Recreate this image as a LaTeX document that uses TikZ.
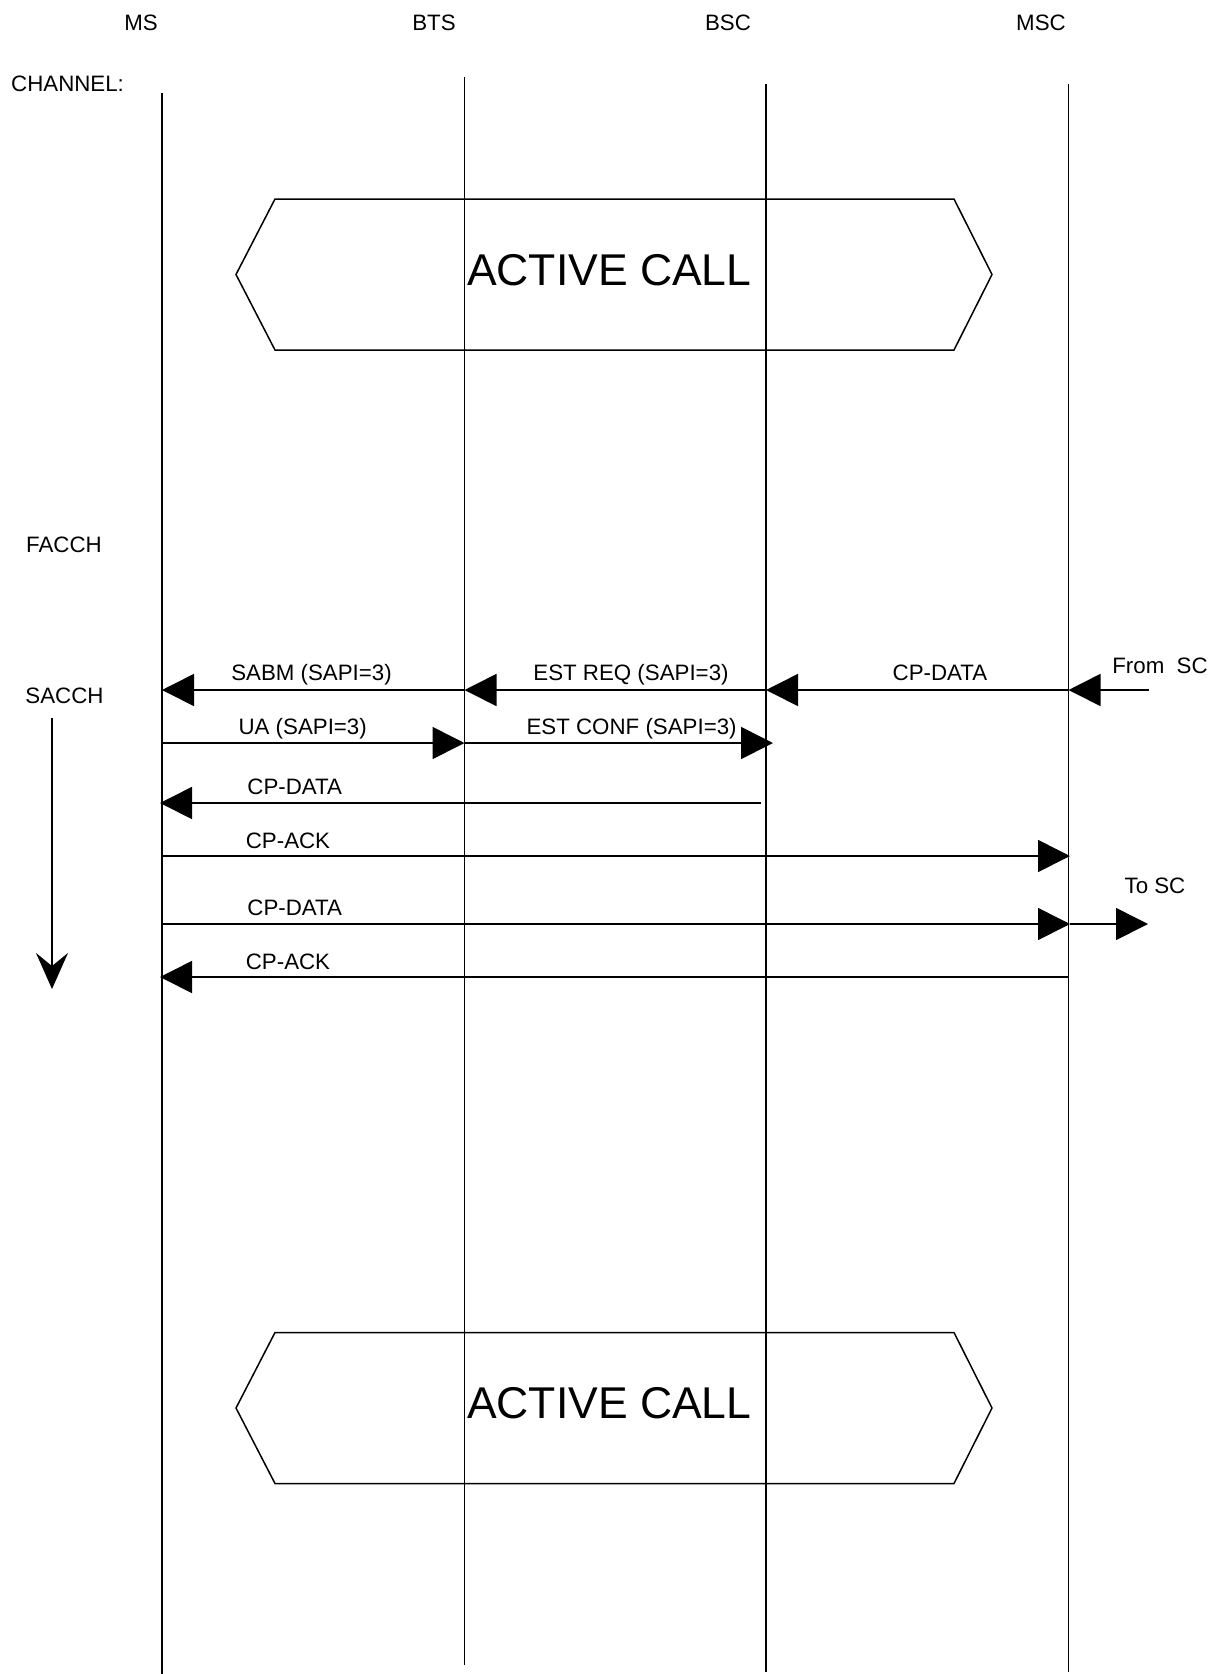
\documentclass[tikz,border=0pt]{standalone}
\usepackage{fontspec}
\setmainfont{Liberation Sans}
\usetikzlibrary{arrows.meta}
\begin{document}
\begin{tikzpicture}[x=1pt,y=-1pt,
  life/.style={line width=1.3pt},
  msgline/.style={line width=1.6pt,-{Triangle[length=32pt,width=32pt]}},
  timeline/.style={line width=1.5pt,-{Stealth[length=36pt,width=32pt,inset=13pt]}},
  lbl/.style={font=\fontsize{22.3}{26}\selectfont, anchor=base, inner sep=0pt},
  big/.style={font=\fontsize{44.5}{50}\selectfont, anchor=base, inner sep=0pt},
  callbox/.style={line width=1.5pt, line join=miter}]
\useasboundingbox (0,0) rectangle (1211,1674);

% lifeline end points
\coordinate (msT) at (162,93);    \coordinate (msB) at (162,1674);
\coordinate (btsT) at (464.5,77); \coordinate (btsB) at (464.5,1665);
\coordinate (bscT) at (766,84);   \coordinate (bscB) at (766,1672);
\coordinate (mscT) at (1068.5,84);\coordinate (mscB) at (1068.5,1672);

% header labels
\node[lbl] (hMS) at (141,30) {MS};
\node[lbl] (hBTS) at (434,30) {BTS};
\node[lbl] (hBSC) at (728,30) {BSC};
\node[lbl] (hMSC) at (1041,30) {MSC};
\node[lbl, anchor=base west] (hCH) at (11,91) {CHANNEL:};

% lifelines
\draw[life] (msT) -- (msB);
\draw[life] (btsT) -- (btsB);
\draw[life] (bscT) -- (bscB);
\draw[life] (mscT) -- (mscB);

% active call boxes
\draw[callbox] (236,274.5) -- (275,199) -- (954,199) -- (992,274.5) -- (954,350) -- (275,350) -- cycle;
\node[big] (call1) at (609.3,285.5) {ACTIVE CALL};
\draw[callbox] (236,1408) -- (275,1332.5) -- (954,1332.5) -- (992,1408) -- (954,1483.5) -- (275,1483.5) -- cycle;
\node[big] (call2) at (609.3,1418.5) {ACTIVE CALL};

% channel labels and time arrow
\node[lbl] (facch) at (64,552.5) {FACCH};
\node[lbl] (sacch) at (64.5,703) {SACCH};
\coordinate (tl0) at (52,718);
\coordinate (tl1) at (52,989);
\draw[timeline] (tl0) -- (tl1);

% message end points
\coordinate (ms1) at (162,690);  \coordinate (bts1) at (464.5,690);
\coordinate (bsc1) at (766,690); \coordinate (msc1) at (1068.5,690);
\coordinate (src1) at (1149,690);
\coordinate (ms2) at (162,743);  \coordinate (bts2) at (464.5,743);
\coordinate (bsc2) at (773,743);
\coordinate (ms3) at (160,803);  \coordinate (bsc3) at (761,803);
\coordinate (ms4) at (162,856);  \coordinate (msc4) at (1070,856);
\coordinate (ms5) at (162,924);  \coordinate (msc5) at (1070,924);
\coordinate (sc5) at (1148,924);
\coordinate (ms6) at (160,977);  \coordinate (msc6) at (1068.5,977);

% messages
\draw[msgline] (bts1) -- (ms1);
\draw[msgline] (bsc1) -- (bts1);
\draw[msgline] (msc1) -- (bsc1);
\draw[msgline] (src1) -- (msc1);
\draw[msgline] (ms2) -- (bts2);
\draw[msgline] (bts2) -- (bsc2);
\draw[msgline] (bsc3) -- (ms3);
\draw[msgline] (ms4) -- (msc4);
\draw[msgline] (ms5) -- (msc5);
\draw[msgline] (msc5) -- (sc5);
\draw[msgline] (msc6) -- (ms6);

% message labels
\node[lbl] (lSABM) at (311.5,680.3) {SABM (SAPI=3)};
\node[lbl] (lESTREQ) at (631,680.3) {EST REQ (SAPI=3)};
\node[lbl] (lCPD1) at (940,680.3) {CP-DATA};
\node[lbl] (lFROM) at (1160,673) {From\ \ SC};
\node[lbl] (lUA) at (302.7,734.7) {UA (SAPI=3)};
\node[lbl] (lESTCONF) at (631.6,734.7) {EST CONF (SAPI=3)};
\node[lbl] (lCPD2) at (294.7,794) {CP-DATA};
\node[lbl] (lCPA1) at (288,848.8) {CP-ACK};
\node[lbl] (lTOSC) at (1155,893) {To SC};
\node[lbl] (lCPD3) at (294.7,915.8) {CP-DATA};
\node[lbl] (lCPA2) at (288,969) {CP-ACK};
\end{tikzpicture}
\end{document}
